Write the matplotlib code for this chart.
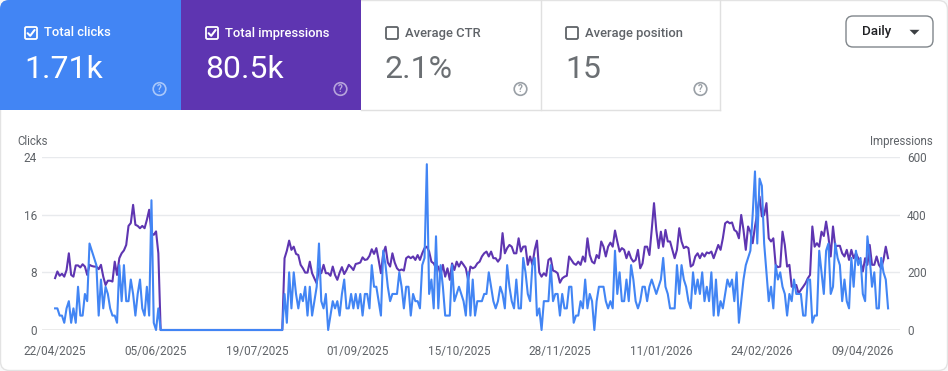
import matplotlib
matplotlib.use('Agg')
import matplotlib.pyplot as plt
from matplotlib.patches import Rectangle, FancyBboxPatch, Circle, Polygon
import matplotlib.dates as mdates
import pandas as pd

plt.rcParams['font.family'] = ['Roboto', 'DejaVu Sans']

# ---------------- data ----------------
start_date = '2025-04-22'

clicks = [
    3, 3, 2, 2, 1, 3, 4, 1, 3, 1, 6, 2, 2, 5, 4, 12, 11, 10, 9, 2,
    7, 3, 6, 5, 3, 2, 2, 1, 9, 4, 9, 4, 4, 7, 5, 2, 5, 7, 3, 2,
    6, 2, 18, 1, 0, 3,
    0, 0, 0, 0, 0, 0, 0, 0, 0, 0, 0, 0, 0, 0, 0, 0, 0, 0, 0, 0,
    0, 0, 0, 0, 0, 0, 0, 0, 0, 0, 0, 0, 0, 0, 0, 0, 0, 0, 0, 0,
    0, 0, 0, 0, 0, 0, 0, 0, 0, 0, 0, 0, 0, 0,
    5, 1, 8, 3, 8, 5, 3, 5, 4, 6, 2, 6, 2, 4, 6, 12, 4, 3, 5, 0,
    2, 4, 3, 4, 2, 5, 7, 3, 3, 5, 3, 5, 3, 5, 2, 5, 5, 3, 9, 6,
    6, 4, 2, 11, 9, 6, 4, 5, 5, 5, 8, 6,
    3, 6, 6, 2, 5, 4, 4, 3, 9, 10, 23, 5, 7, 3, 13, 3, 9, 6, 2, 2,
    2, 9, 4, 5, 6, 5, 4, 2, 8, 2, 7, 2, 4, 4, 4, 5, 5, 8, 6, 4,
    3, 4, 6, 5, 3, 9, 6, 4, 3, 7, 3, 3, 10,
    8, 5, 4, 9, 10, 2, 3, 0, 4, 4, 4, 9, 4, 5, 5, 2, 5, 3, 3, 6,
    6, 1, 2, 2, 4, 3, 7, 3, 5, 4, 0, 4, 6, 6, 6, 4, 3, 4, 3, 11,
    5, 8, 4, 4, 7, 4, 9, 7, 4, 3, 4, 6,
    6, 4, 6, 7, 6, 5, 6, 7, 10, 6, 5, 3, 3, 3, 9, 5, 9, 7, 6, 4,
    3, 8, 5, 7, 5, 8, 4, 6, 4, 8, 2, 7, 2, 4, 3, 5, 7, 6, 7, 4,
    8, 1, 4, 7, 9, 10, 11, 16, 22,
    12, 21, 20, 12, 8, 4, 6, 3, 9, 7, 8, 6, 5, 2, 5, 4, 7, 5, 5, 5,
    2, 2, 7, 7, 1, 2, 2, 11, 8, 5, 11, 12, 5, 6, 12, 10, 9, 4, 7, 4,
    3, 10, 6, 11, 9, 10, 5, 4, 13, 10, 6, 8, 3, 3, 10, 8, 7, 3,
]

impressions = [
    180, 203, 188, 195, 185, 208, 266, 191, 185, 224, 224, 217, 228, 220, 191, 226, 222, 220, 220, 211,
    226, 185, 156, 171, 171, 168, 237, 191, 249, 266, 276, 295, 361, 371, 434, 365, 361, 353, 361, 353,
    382, 417, 336, 330, 342, 266,
    0, 0, 0, 0, 0, 0, 0, 0, 0, 0, 0, 0, 0, 0, 0, 0, 0, 0, 0, 0,
    0, 0, 0, 0, 0, 0, 0, 0, 0, 0, 0, 0, 0, 0, 0, 0, 0, 0, 0, 0,
    0, 0, 0, 0, 0, 0, 0, 0, 0, 0, 0, 0, 0, 0,
    249, 275, 310, 278, 289, 264, 260, 226, 214, 199, 199, 237, 197, 179, 162, 214, 197, 226, 197, 197,
    188, 220, 191, 174, 199, 218, 194, 208, 226, 218, 208, 229, 231, 234, 252, 243, 245, 257, 280, 264,
    284, 243, 197, 266, 289, 234, 220, 266, 234, 214, 206, 210,
    206, 249, 255, 249, 255, 243, 260, 243, 266, 284, 289, 272, 237, 231, 214, 220, 191, 226, 185, 214,
    174, 231, 208, 237, 220, 237, 226, 214, 174, 220, 214, 218, 231, 237, 255, 266, 272, 255, 272, 249,
    249, 237, 249, 336, 266, 284, 295, 289, 266, 266, 318, 272, 289,
    290, 226, 255, 226, 278, 310, 200, 185, 197, 188, 243, 249, 206, 203, 197, 164, 179, 185, 188, 255,
    243, 231, 226, 237, 226, 255, 237, 318, 260, 237, 231, 260, 249, 307, 289, 255, 289, 303, 289, 345,
    307, 272, 284, 278, 249, 272, 249, 237, 243, 278, 214, 231,
    289, 289, 260, 347, 440, 347, 284, 341, 289, 347, 307, 307, 278, 249, 278, 353, 307, 284, 289, 284,
    220, 226, 255, 266, 249, 266, 255, 269, 266, 272, 249, 272, 295, 278, 318, 370, 376, 370, 373, 347,
    341, 318, 399, 347, 278, 359, 341, 301, 359,
    405, 463, 394, 399, 440, 318, 307, 318, 226, 218, 220, 341, 295, 220, 226, 150, 156, 156, 127, 139,
    150, 162, 179, 191, 359, 289, 301, 289, 341, 326, 376, 324, 255, 359, 289, 292, 292, 266, 255, 278,
    243, 278, 249, 266, 249, 237, 203, 249, 226, 295, 226, 226, 255, 226, 214, 243, 289, 249,
]

metric_labels = ['Total clicks', 'Total impressions', 'Average CTR', 'Average position']
metric_values = ['1.71k', '80.5k', '2.1%', '15']
metric_selected = [True, True, False, False]
clicks_ticks = [0, 8, 16, 24]
impressions_ticks = [0, 200, 400, 600]
date_tick_labels = ['22/04/2025', '05/06/2025', '19/07/2025', '01/09/2025', '15/10/2025',
                    '28/11/2025', '11/01/2026', '24/02/2026', '09/04/2026']

# ---------------- styling ----------------
W, H = 948, 371
BLUE = '#4285F4'
PURPLE = '#5E35B1'
GREY_TXT = '#5f6368'
card_colors = [BLUE, PURPLE, 'white', 'white']
card_x = [0, 181, 361, 541, 720]

fig = plt.figure(figsize=(W / 100, H / 100), dpi=100, facecolor='#f8f9fa')

ov = fig.add_axes([0, 0, 1, 1])
ov.set_xlim(0, W)
ov.set_ylim(H, 0)
ov.axis('off')

# outer white card
ov.add_patch(FancyBboxPatch((0.5, 0.5), W - 1, H - 1,
                            boxstyle='round,pad=0,rounding_size=9',
                            facecolor='white', edgecolor='#e3e3e3', lw=1, zorder=0))

# metric cards
for i in range(4):
    x0, x1 = card_x[i], card_x[i + 1]
    col = card_colors[i]
    sel = metric_selected[i]
    if sel:
        if i == 0:
            ov.add_patch(FancyBboxPatch((x0, 0), x1 - x0, 110,
                                        boxstyle='round,pad=0,rounding_size=9',
                                        facecolor=col, edgecolor='none', zorder=1))
            ov.add_patch(Rectangle((x0 + 20, 0), x1 - x0 - 20, 110, facecolor=col,
                                   edgecolor='none', zorder=1))
            ov.add_patch(Rectangle((x0, 20), x1 - x0, 90, facecolor=col,
                                   edgecolor='none', zorder=1))
        else:
            ov.add_patch(Rectangle((x0, 0), x1 - x0, 110, facecolor=col,
                                   edgecolor='none', zorder=1))
        fg = 'white'
        valc = 'white'
        help_col = (1, 1, 1, 0.55)
    else:
        fg = GREY_TXT
        valc = '#6b6f73'
        help_col = '#9aa0a6'
    # checkbox
    bx = x0 + 25
    ov.add_patch(FancyBboxPatch((bx, 27), 12, 12, boxstyle='round,pad=0,rounding_size=1.5',
                                facecolor='none', edgecolor=fg, lw=1.3, zorder=3))
    if sel:
        ov.plot([bx + 2.6, bx + 5.2, bx + 9.6], [33.2, 35.8, 30.0], color='white',
                lw=1.5, solid_capstyle='round', zorder=4)
    ov.text(x0 + 44.5, 36.5, metric_labels[i], color=fg, fontsize=9.4,
            fontweight='medium', va='baseline', ha='left', zorder=4)
    ov.text(x0 + 24, 78.5, metric_values[i], color=valc, fontsize=23,
            va='baseline', ha='left', zorder=4)
    # help icon
    hx = x0 + 159.5
    ov.add_patch(Circle((hx, 89), 6.3, facecolor='none', edgecolor=help_col, lw=1.2, zorder=4))
    ov.text(hx, 89.5, '?', color=help_col, fontsize=7, ha='center', va='center',
            fontweight='bold', zorder=4)

# grey card borders
ov.plot([541, 541], [0, 110], color='#e0e0e0', lw=1, zorder=2)
ov.plot([720.5, 720.5], [0, 110], color='#e0e0e0', lw=1, zorder=2)
ov.plot([361, 720.5], [109.5, 109.5], color='#e0e0e0', lw=1, zorder=2)

# Daily dropdown
ov.add_patch(FancyBboxPatch((846, 16), 87, 31, boxstyle='round,pad=0,rounding_size=7',
                            facecolor='white', edgecolor='#80868b', lw=1, zorder=3))
ov.text(862, 32, 'Daily', color='#202124', fontsize=9.6, fontweight='medium',
        ha='left', va='center', zorder=4)
ov.add_patch(Polygon([(909.5, 29.8), (919.5, 29.8), (914.5, 34.8)], closed=True,
                     facecolor='#3c4043', edgecolor='none', zorder=4))

# axis titles
ov.text(17, 145, 'Clicks', color=GREY_TXT, fontsize=8.3, ha='left', va='baseline')
ov.text(933, 145, 'Impressions', color=GREY_TXT, fontsize=8.3, ha='right', va='baseline')

# ---------------- chart ----------------
dates = pd.date_range(start_date, periods=len(clicks), freq='D')
tick_dates = pd.to_datetime(date_tick_labels, format='%d/%m/%Y')

ax = fig.add_axes([42 / W, (H - 330) / H, 858 / W, 173 / H])
ax2 = ax.twinx()
ax.set_zorder(ax2.get_zorder() + 1)
ax.patch.set_visible(False)

ax2.plot(dates, impressions, color=PURPLE, lw=1.5, clip_on=False, solid_joinstyle='round')
ax.plot(dates, clicks, color=BLUE, lw=1.5, clip_on=False, solid_joinstyle='round')

ax.set_ylim(0, 24)
ax2.set_ylim(0, 600)
ax.set_yticks(clicks_ticks)
ax2.set_yticks(impressions_ticks)
ax.set_xlim(dates[0] - pd.Timedelta(days=5.7), dates[-1] + pd.Timedelta(days=5.2))
ax.set_xticks(tick_dates)
ax.set_xticklabels(date_tick_labels)

for a in (ax, ax2):
    for s in a.spines.values():
        s.set_visible(False)
ax.tick_params(axis='x', length=0, pad=11, labelsize=8.5, labelcolor=GREY_TXT)
ax.tick_params(axis='y', length=0, pad=3.6, labelsize=8.5, labelcolor=GREY_TXT)
ax2.tick_params(axis='y', length=0, pad=5, labelsize=8.5, labelcolor=GREY_TXT)

for v in clicks_ticks[1:]:
    ax2.axhline(v * 25, color='#e8eaed', lw=1, zorder=0)
ax2.axhline(0, color='#9e9e9e', lw=1, zorder=0)

fig.savefig('out.png', dpi=100, facecolor=fig.get_facecolor())
